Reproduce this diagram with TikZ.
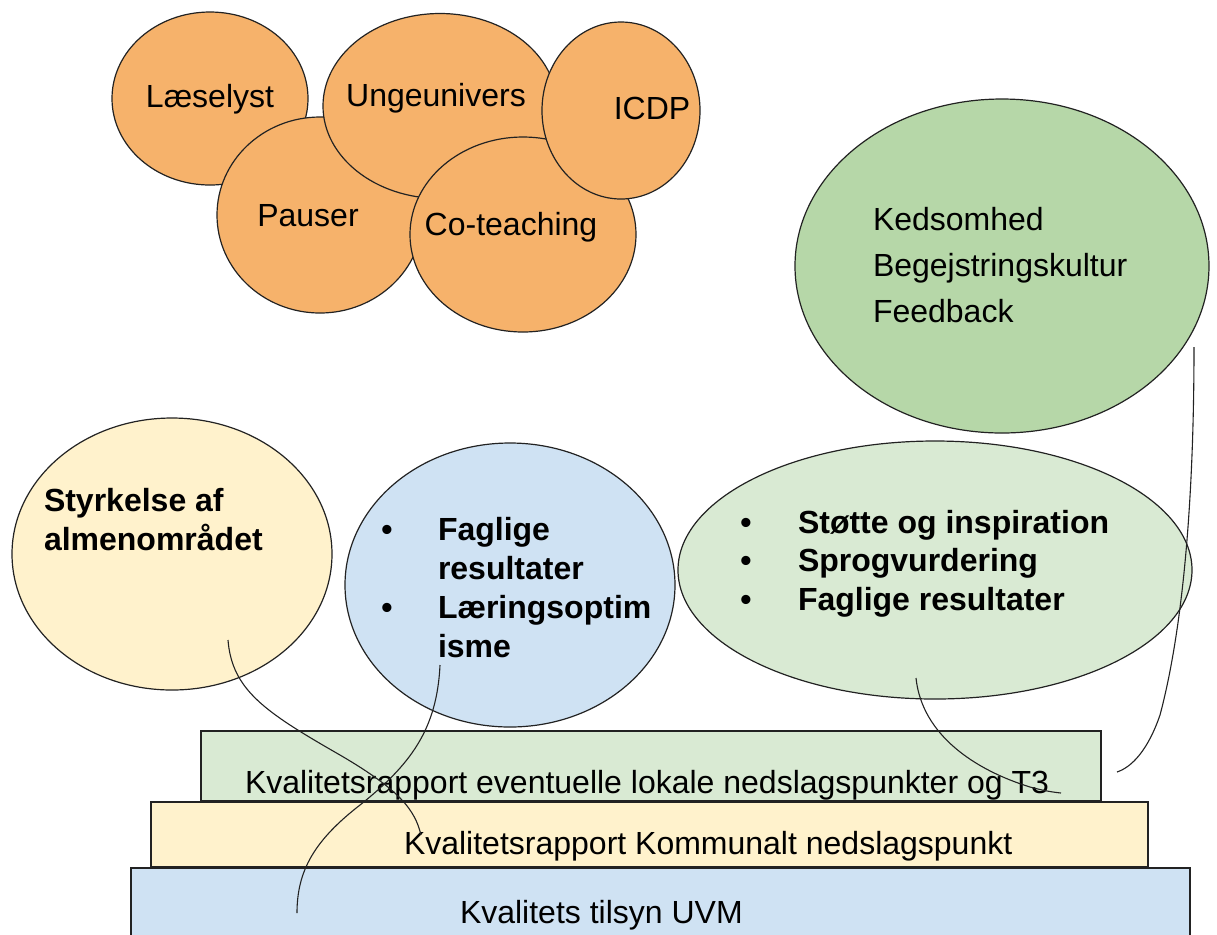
\documentclass[tikz,border=0pt]{standalone}
\usepackage{fontspec}
\setmainfont{Liberation Sans}
\usetikzlibrary{shapes.geometric}
\definecolor{orangeF}{HTML}{F6B26B}
\definecolor{dgreenF}{HTML}{B6D7A8}
\definecolor{lgreenF}{HTML}{D9EAD3}
\definecolor{yellowF}{HTML}{FFF2CC}
\definecolor{blueF}{HTML}{CFE2F3}
\definecolor{edge}{HTML}{222222}
\tikzset{
  blob/.style={ellipse, draw=edge, line width=0.6pt, inner sep=0pt, outer sep=0pt},
  layer/.style={rectangle, draw=edge, line width=0.7pt, inner sep=0pt, outer sep=0pt, anchor=north west},
  txt/.style={inner sep=0pt, outer sep=0pt, font=\fontsize{16pt}{19.5pt}\selectfont},
  btxt/.style={txt, font=\fontsize{16pt}{19.5pt}\selectfont\bfseries, align=left, anchor=base west},
  bul/.style={txt, anchor=base, font=\fontsize{16pt}{19.5pt}\selectfont\bfseries},
  link/.style={draw=edge, line width=0.55pt},
}
\begin{document}
\begin{tikzpicture}[x=0.5pt,y=-0.5pt]
\useasboundingbox (0,0) rectangle (1217,934);
\clip (0,0) rectangle (1217,934);
% orange cluster
\node[blob, fill=orangeF, minimum width=98pt, minimum height=86.5pt] (laese) at (210,98.5) {};
\node[blob, fill=orangeF, minimum width=103pt, minimum height=98pt] (pauser) at (320,215) {};
\node[blob, fill=orangeF, minimum width=117pt, minimum height=92.5pt] (unge) at (440,106) {};
\node[blob, fill=orangeF, minimum width=113pt, minimum height=97.5pt] (cotea) at (523,234.5) {};
\node[blob, fill=orangeF, minimum width=79pt, minimum height=88.5pt] (icdp) at (621,110.5) {};
\node[txt, anchor=base] (tlaese) at (210,107) {Læselyst};
\node[txt, anchor=base] (tunge) at (436,106) {Ungeunivers};
\node[txt, anchor=base] (ticdp) at (652,119) {ICDP};
\node[txt, anchor=base] (tpauser) at (308,226) {Pauser};
\node[txt, anchor=base] (tcotea) at (511,235) {Co-teaching};
% dark green
\node[blob, fill=dgreenF, minimum width=207pt, minimum height=167pt] (dgreen) at (1002,266) {};
\node[txt, align=left, anchor=base west, font=\fontsize{16pt}{23pt}\selectfont] (tdgreen) at (873,322) {Kedsomhed\\Begejstringskultur\\Feedback};
% yellow circle
\node[blob, fill=yellowF, minimum width=160pt, minimum height=136pt] (yellow) at (172,554) {};
\node[btxt] (tyellow) at (44,550) {Styrkelse af\\almenområdet};
% blue circle
\node[blob, fill=blueF, minimum width=165pt, minimum height=142pt] (blue) at (510,585) {};
\node[btxt] (tblue) at (438,657) {Faglige\\resultater\\Læringsoptim\\isme};
\node[bul] (bb1) at (387,540) {•};
\node[bul] (bb2) at (387,618) {•};
% light green ellipse
\node[blob, fill=lgreenF, minimum width=257pt, minimum height=129pt] (lgreen) at (935,570) {};
\node[btxt, font=\fontsize{16pt}{19.25pt}\selectfont\bfseries] (tlgreen) at (798,610) {Støtte og inspiration\\Sprogvurdering\\Faglige resultater};
\node[bul] (gb1) at (746,533) {•};
\node[bul] (gb2) at (746,571.5) {•};
\node[bul] (gb3) at (746,610) {•};
% layers
\node[layer, fill=blueF, minimum width=529.5pt, minimum height=45pt] (r3) at (131,868) {};
\node[layer, fill=yellowF, minimum width=498.5pt, minimum height=32.5pt] (r2) at (151,802) {};
\node[layer, fill=lgreenF, minimum width=450pt, minimum height=35pt] (r1) at (201,731) {};
\node[txt, anchor=base west] (tr1) at (245,793) {Kvalitetsrapport eventuelle lokale nedslagspunkter og T3};
\node[txt, anchor=base west] (tr2) at (404,854) {Kvalitetsrapport Kommunalt nedslagspunkt};
\node[txt, anchor=base west] (tr3) at (460,923) {Kvalitets tilsyn UVM};
% connector ends
\coordinate (c1s) at (228,640);
\coordinate (c1m) at (340,755);
\coordinate (c1e) at (421,835);
\coordinate (c2s) at (440,665);
\coordinate (c2m) at (360,805);
\coordinate (c2e) at (297,913);
\coordinate (c3s) at (916,678);
\coordinate (c3m) at (1030,787);
\coordinate (c3e) at (1061,793);
\coordinate (c4s) at (1194,347);
\coordinate (c4m) at (1160,715);
\coordinate (c4e) at (1117,772);
\draw[link] (c1s) .. controls (232,690) and (265,712) .. (c1m) .. controls (400,790) and (415,810) .. (c1e);
\draw[link] (c2s) .. controls (437,730) and (410,765) .. (c2m) .. controls (315,840) and (297,870) .. (c2e);
\draw[link] (c3s) .. controls (922,735) and (975,770) .. (c3m) .. controls (1045,791) and (1052,792) .. (c3e);
\draw[link] (c4s) .. controls (1194,520) and (1180,640) .. (c4m) .. controls (1148,750) and (1132,767) .. (c4e);
\end{tikzpicture}
\end{document}
